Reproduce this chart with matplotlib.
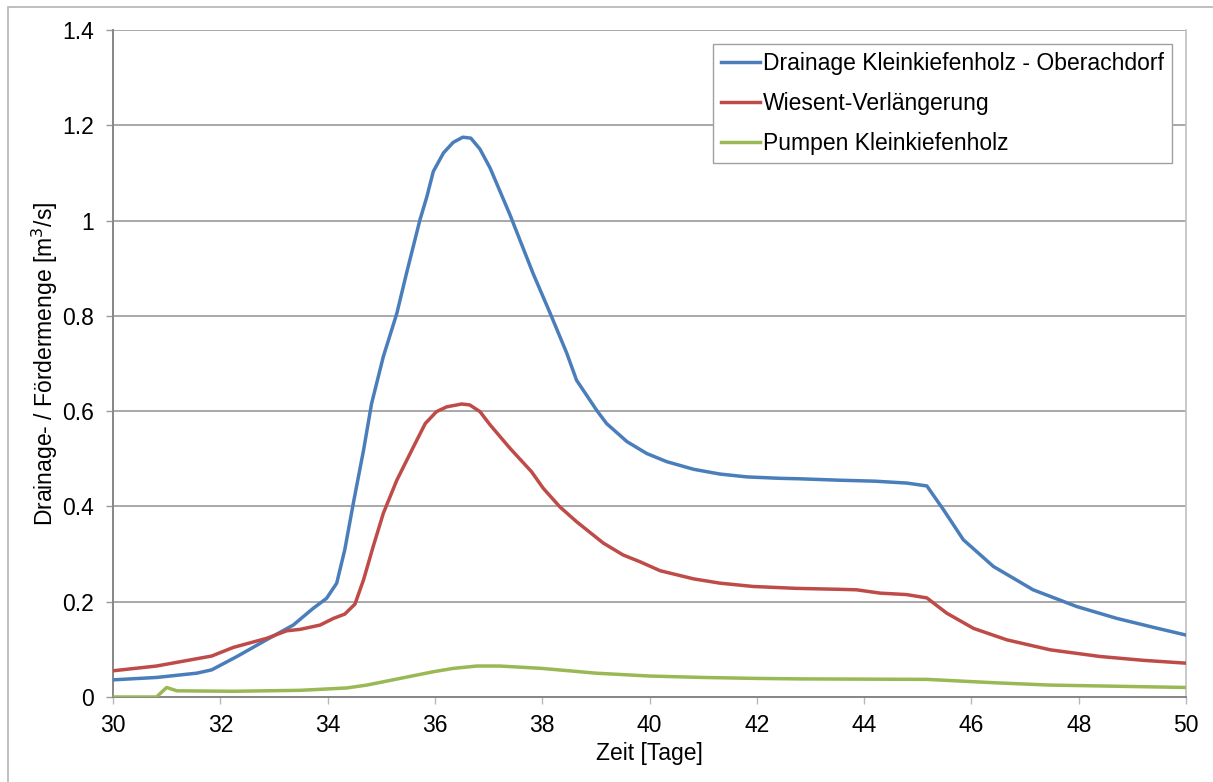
import matplotlib
matplotlib.use('Agg')
import matplotlib.pyplot as plt
import matplotlib.patches as mpatches

plt.rcParams['font.family'] = ['Liberation Sans', 'DejaVu Sans']

# Data (days, m3/s)
days_drain = [30, 30.81, 31.56, 31.84, 32.31, 32.86, 33.36, 33.73, 33.98, 34.17, 34.32,
              34.48, 34.67, 34.82, 35.04, 35.29, 35.47, 35.72, 35.85, 35.97, 36.16,
              36.34, 36.52, 36.67, 36.84, 37.03, 37.4, 37.83, 38.15, 38.46, 38.64,
              39.02, 39.2, 39.58, 39.95, 40.32, 40.82, 41.31, 41.81, 42.43, 42.8,
              43.55, 44.2, 44.8, 45.17, 45.48, 45.85, 46.41, 47.15, 47.96, 48.71,
              49.4, 50]
q_drain = [0.036, 0.041, 0.050, 0.057, 0.085, 0.120, 0.151, 0.186, 0.207, 0.239, 0.309,
           0.407, 0.518, 0.616, 0.715, 0.805, 0.889, 1.001, 1.050, 1.103, 1.142,
           1.164, 1.175, 1.173, 1.150, 1.110, 1.012, 0.889, 0.805, 0.721, 0.665,
           0.601, 0.574, 0.536, 0.511, 0.494, 0.478, 0.468, 0.462, 0.459, 0.458,
           0.455, 0.453, 0.449, 0.443, 0.393, 0.330, 0.274, 0.225, 0.190, 0.165,
           0.146, 0.130]

days_wiesent = [30, 30.81, 31.84, 32.24, 32.86, 33.24, 33.49, 33.86, 34.11, 34.32, 34.51,
                34.67, 34.85, 35.04, 35.29, 35.6, 35.82, 36.03, 36.22, 36.5, 36.65,
                36.84, 37.03, 37.4, 37.8, 38.02, 38.33, 38.64, 39.14, 39.51, 39.82,
                40.2, 40.82, 41.31, 41.93, 42.74, 43.55, 43.86, 44.3, 44.79, 45.17,
                45.54, 46.04, 46.66, 47.47, 48.4, 49.2, 50]
q_wiesent = [0.055, 0.065, 0.086, 0.104, 0.123, 0.139, 0.142, 0.151, 0.165, 0.174, 0.195,
             0.246, 0.316, 0.386, 0.455, 0.525, 0.574, 0.599, 0.609, 0.615, 0.613,
             0.599, 0.571, 0.522, 0.473, 0.438, 0.399, 0.368, 0.323, 0.298, 0.284,
             0.265, 0.248, 0.239, 0.232, 0.228, 0.226, 0.225, 0.218, 0.215, 0.208,
             0.176, 0.144, 0.120, 0.099, 0.085, 0.077, 0.071]

days_pumpen = [30, 30.81, 31.0, 31.19, 32.24, 33.49, 34.36, 34.73, 35.35, 35.97, 36.34,
               36.78, 37.21, 38.0, 39.0, 40.0, 41.0, 42.0, 42.8, 45.17, 46.41, 47.47, 50]
q_pumpen = [0.0, 0.0, 0.020, 0.013, 0.012, 0.014, 0.019, 0.025, 0.039, 0.053, 0.060,
            0.065, 0.065, 0.060, 0.050, 0.044, 0.041, 0.039, 0.038, 0.037, 0.030, 0.025, 0.020]

labels = ['Drainage Kleinkiefenholz - Oberachdorf', 'Wiesent-Verlängerung', 'Pumpen Kleinkiefenholz']
colors = ['#4a7ebb', '#be4b48', '#98b954']

x_ticks = list(range(30, 51, 2))
y_ticks = [0, 0.2, 0.4, 0.6, 0.8, 1.0, 1.2, 1.4]
y_tick_labels = ['0', '0.2', '0.4', '0.6', '0.8', '1', '1.2', '1.4']

FS = 16.5
W, H = 1213, 782
fig = plt.figure(figsize=(W / 100, H / 100), dpi=100)
ax = fig.add_axes([113 / W, 1 - 697 / H, (1186 - 113) / W, (697 - 30) / H])

ax.plot(days_drain, q_drain, color=colors[0], lw=2.5, label=labels[0], zorder=3)
ax.plot(days_wiesent, q_wiesent, color=colors[1], lw=2.5, label=labels[1], zorder=3)
ax.plot(days_pumpen, q_pumpen, color=colors[2], lw=2.5, label=labels[2], zorder=3)

ax.set_xlim(30, 50)
ax.set_ylim(0, 1.4)
ax.set_xticks(x_ticks)
ax.set_yticks(y_ticks)
ax.set_yticklabels(y_tick_labels)

ax.grid(axis='y', color='#9a9a9a', lw=1.2)
ax.set_axisbelow(True)
for side in ['left', 'bottom']:
    ax.spines[side].set_color('#868686')
    ax.spines[side].set_linewidth(1.4)
ax.spines['top'].set_visible(False)
ax.spines['right'].set_color('#c0c0c0')
ax.spines['right'].set_linewidth(1.2)

ax.tick_params(axis='x', direction='out', length=5, width=1.0, color='#b8b8b8',
               labelsize=FS, pad=7)
ax.tick_params(axis='y', direction='out', length=5, width=1.0, color='#9a9a9a',
               labelsize=FS, pad=9)

ax.set_xlabel('Zeit [Tage]', fontsize=FS)
ax.xaxis.set_label_coords(0.5, -0.068)
ax.set_ylabel('Drainage- / Fördermenge [m$^3$/s]', fontsize=FS)
ax.yaxis.set_label_coords(-0.049, 0.5)

leg = ax.legend(loc='upper right', bbox_to_anchor=(1172 / W, 1 - 44 / H),
                bbox_transform=fig.transFigure, borderaxespad=0, fontsize=FS,
                fancybox=False, framealpha=1, edgecolor='#a0a0a0',
                handlelength=1.7, handletextpad=0.15, labelspacing=0.75, borderpad=0.35)
leg.get_frame().set_linewidth(1.0)

# outer chart frame
frame = mpatches.Rectangle((8 / W, -0.1), 1.2, 1.1 - 7 / H, transform=fig.transFigure,
                           fill=False, edgecolor='#b4b4b4', lw=1.2)
fig.patches.append(frame)

fig.savefig('out.png', dpi=100)
